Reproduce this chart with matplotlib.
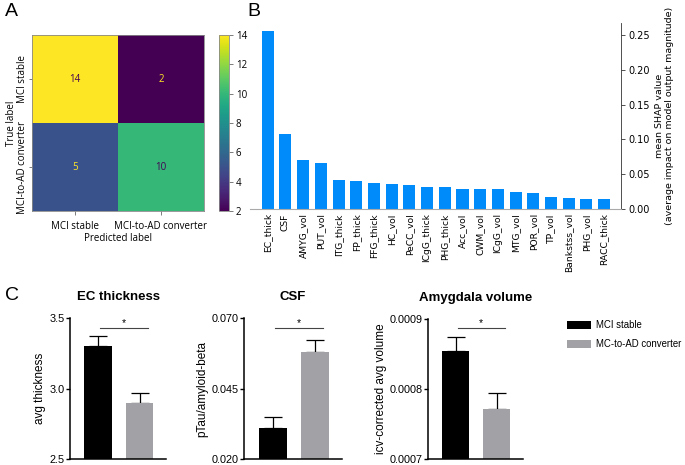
import numpy as np
import matplotlib
matplotlib.use("Agg")
import matplotlib.pyplot as plt
from matplotlib.patches import Patch

W, H = 685, 465
fig = plt.figure(figsize=(W/100, H/100), dpi=100)

def ax_px(l, t, r, b):
    return fig.add_axes([l/W, 1-b/H, (r-l)/W, (b-t)/H])

# ---------------- data ----------------
cm_labels = ["MCI stable", "MCI-to-AD converter"]
cm_values = [[14, 2], [5, 10]]

shap_features = ["EC_thick", "CSF", "AMYG_vol", "PUT_vol", "ITG_thick", "FP_thick",
                 "FFG_thick", "HC_vol", "PeCC_vol", "ICgG_thick", "PHG_thick", "Acc_vol",
                 "CWM_vol", "ICgG_vol", "MTG_vol", "POR_vol", "TP_vol", "Bankstss_vol",
                 "PHG_vol", "RACC_thick"]
shap_values = [0.256, 0.108, 0.0698, 0.066, 0.042, 0.040, 0.0373, 0.0359, 0.0344, 0.032,
               0.031, 0.0287, 0.0287, 0.0287, 0.0244, 0.023, 0.0177, 0.0163, 0.0148, 0.0143]

groups = ["MCI stable", "MC-to-AD converter"]
group_colors = ["#000000", "#a2a1a6"]
ec_means = [3.303, 2.898]
ec_err = [0.070, 0.070]
csf_means = [0.0310, 0.0578]
csf_err = [0.0040, 0.0043]
amyg_means = [0.000854, 0.000772]
amyg_err = [0.000021, 0.000022]

# ---------------- Panel A ----------------
fA = "Open Sans"
axA = ax_px(32, 35, 204, 211)
cmv = np.array(cm_values)
im = axA.imshow(cmv, cmap="viridis", vmin=2, vmax=14, aspect="auto")
cmap = plt.get_cmap("viridis")
for i in range(2):
    for j in range(2):
        v = cmv[i, j]
        col = cmap(0.0) if v > 8 else cmap(1.0)
        axA.text(j, i, str(v), ha="center", va="center", fontsize=7, color=col, family=fA)
axA.set_xticks([0, 1])
axA.set_xticklabels(cm_labels, fontsize=7, family=fA)
axA.set_yticks([0, 1])
axA.set_yticklabels(cm_labels, fontsize=7, family=fA, rotation=90, va="center")
axA.set_xlabel("Predicted label", fontsize=7, family=fA, labelpad=1)
axA.set_ylabel("True label", fontsize=7, family=fA, labelpad=0)
axA.tick_params(axis="x", length=3, width=0.6, color="#666666", pad=4)
axA.tick_params(axis="y", length=2, width=0.6, color="#666666", pad=1)
for s in axA.spines.values():
    s.set_color("#888888"); s.set_linewidth(0.6)
caxA = ax_px(219, 35, 229, 211)
cb = fig.colorbar(im, cax=caxA, ticks=[2, 4, 6, 8, 10, 12, 14])
cb.ax.tick_params(labelsize=7, length=3, width=0.6, color="#666666", pad=2)
for t in cb.ax.get_yticklabels():
    t.set_family(fA)
cb.outline.set_edgecolor("#888888"); cb.outline.set_linewidth(0.6)

# ---------------- Panel B ----------------
axB = ax_px(250, 23, 621, 209)
xb = np.arange(len(shap_features))
axB.bar(xb, shap_values, width=0.68, color="#008bfb")
axB.set_xlim(-1.0, len(shap_features) - 0.05)
axB.set_ylim(0, 0.267)
axB.set_yticks([0, 0.05, 0.10, 0.15, 0.20, 0.25])
axB.set_yticklabels(["0.00", "0.05", "0.10", "0.15", "0.20", "0.25"])
axB.set_xticks(xb)
axB.set_xticklabels(shap_features, rotation=90, fontsize=6.6)
axB.yaxis.tick_right()
axB.yaxis.set_label_position("right")
axB.tick_params(axis="y", labelsize=7, length=3, width=0.6, color="#333333", pad=2)
axB.tick_params(axis="x", length=0, pad=3)
axB.spines["left"].set_visible(False)
axB.spines["top"].set_visible(False)
axB.spines["bottom"].set_color("#aaaaaa")
axB.spines["bottom"].set_linewidth(0.8)
axB.spines["right"].set_color("#333333")
axB.spines["right"].set_linewidth(0.6)
axB.set_ylabel("mean SHAP value\n(average impact on model output magnitude)", fontsize=6.8,
               labelpad=4, linespacing=1.15)

# ---------------- Panel C ----------------
fC = "Liberation Sans"

def bar_panel(rect, means, errs, ylim, ticks, ticklabels, ylabel, title, sig_y):
    ax = ax_px(*rect)
    x = np.arange(len(means))
    ax.bar(x, means, width=0.66, color=group_colors, zorder=2)
    ax.errorbar(x, means, yerr=[np.zeros(len(errs)), errs], fmt="none",
                ecolor=group_colors[0], elinewidth=0.9, capsize=6.5, capthick=0.9, zorder=1)
    ax.set_xlim(-0.68, 1.64)
    ax.set_ylim(*ylim)
    ax.set_yticks(ticks)
    ax.set_yticklabels(ticklabels, family=fC, fontsize=7.8)
    ax.set_xticks([])
    ax.spines["top"].set_visible(False)
    ax.spines["right"].set_visible(False)
    for s in ("left", "bottom"):
        ax.spines[s].set_linewidth(1.1)
    ax.tick_params(axis="y", length=3, width=1.0, pad=1.0)
    ax.set_ylabel(ylabel, family=fC, fontsize=8.5, labelpad=2)
    ax.set_title(title, family=fC, fontsize=9.5, fontweight="bold", pad=13)
    ax.plot([0.05, 1.2], [sig_y, sig_y], color="#444444", lw=0.8, clip_on=False)
    ax.text(0.62, sig_y, "*", ha="center", va="bottom", family=fC, fontsize=7.5)
    return ax

bar_panel((70, 318, 166, 459), ec_means, ec_err, (2.5, 3.5), [2.5, 3.0, 3.5],
          ["2.5", "3.0", "3.5"], "avg thickness", "EC thickness", 3.43)
bar_panel((244, 318, 342, 459), csf_means, csf_err, (0.020, 0.070), [0.020, 0.045, 0.070],
          ["0.020", "0.045", "0.070"], "pTau/amyloid-beta", "CSF", 0.0665)
bar_panel((428, 319, 523, 459), amyg_means, amyg_err, (0.0007, 0.0009), [0.0007, 0.0008, 0.0009],
          ["0.0007", "0.0008", "0.0009"], "icv-corrected avg volume", "Amygdala volume", 0.000887)

handles = [Patch(facecolor=c, edgecolor="none") for c in group_colors]
fig.legend(handles, groups, loc="upper left", bbox_to_anchor=(567/W, 1-320/H), frameon=False,
           prop={"family": "Liberation Sans", "size": 6.9}, handlelength=2.5, handleheight=0.85,
           handletextpad=0.5, labelspacing=0.95, borderaxespad=0, borderpad=0)

# ---------------- panel letters ----------------
for lbl, x, y in [("A", 5, 3), ("B", 247, 3), ("C", 5, 287)]:
    fig.text(x/W, 1-y/H, lbl, fontsize=14, va="top", ha="left", family="Liberation Sans")

fig.savefig("out.png", dpi=100)
